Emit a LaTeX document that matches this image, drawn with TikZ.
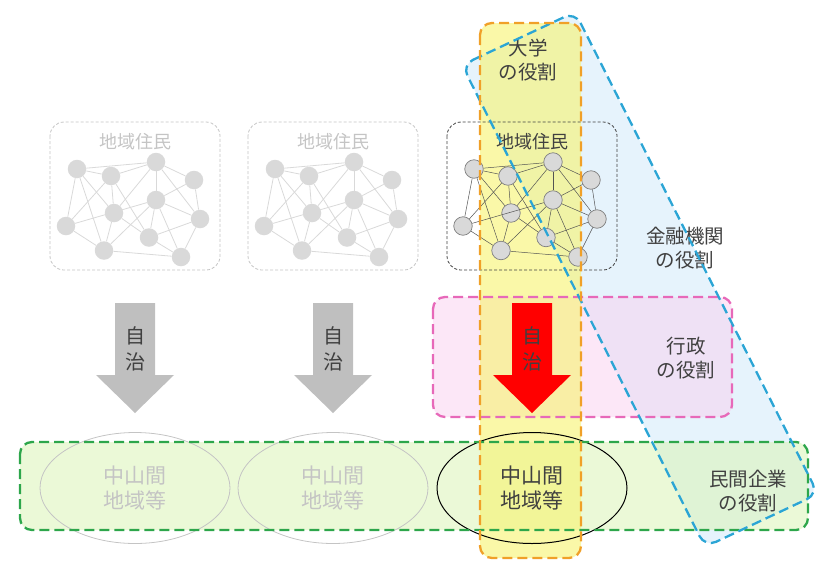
\documentclass[tikz,border=0pt]{standalone}
\usepackage{fontspec}
\setmainfont{Noto Sans CJK JP}
\usetikzlibrary{shapes.geometric}

\definecolor{ink}{HTML}{404040}
\definecolor{fade}{HTML}{C4C4C4}
\definecolor{dotgray}{HTML}{D9D9D9}
\definecolor{arrowgray}{HTML}{BFBFBF}
\definecolor{finblue}{HTML}{2BA5D5}
\definecolor{finfill}{HTML}{D6EBFA}
\definecolor{govpink}{HTML}{E769B9}
\definecolor{govfill}{HTML}{F9CFF0}
\definecolor{bizgreen}{HTML}{2DA64B}
\definecolor{bizfill}{HTML}{D8F3B0}
\definecolor{uniorange}{HTML}{F0A028}
\definecolor{unifill}{HTML}{F7F46E}

\tikzset{
  role/.style={align=center,text=ink,font=\fontsize{19.5}{24}\selectfont},
  dashline/.style={line width=2.3pt,dash pattern=on 10pt off 5pt},
  jichi/.style={align=center,text=ink,font=\fontsize{20}{26}\selectfont},
  area/.style={ellipse,minimum width=190pt,minimum height=111pt,align=center,
    font=\fontsize{21}{25}\selectfont},
  faded/.style={
    box/.style={draw=fade,line width=0.8pt,dash pattern=on 3pt off 2pt,rounded corners=14pt},
    title/.style={text=fade},
    dot/.style={circle,fill=dotgray,inner sep=0pt,minimum size=18.5pt},
    link/.style={draw=dotgray,line width=0.8pt}},
  active/.style={
    box/.style={draw=ink,line width=0.8pt,dash pattern=on 3pt off 2pt,rounded corners=14pt},
    title/.style={text=ink},
    dot/.style={circle,fill=dotgray,draw=gray,line width=0.7pt,inner sep=0pt,minimum size=18.5pt},
    link/.style={draw=ink!90,line width=0.5pt}},
}

\begin{document}
\begin{tikzpicture}[x=1pt,y=-1pt]
  \useasboundingbox (0,0) rectangle (820,563);

  % corners of the role areas
  \coordinate (fin1) at (462,65);
  \coordinate (fin2) at (575,12);
  \coordinate (fin3) at (818,494);
  \coordinate (fin4) at (705,547);

  % fills
  \fill[finfill,fill opacity=.6,rounded corners=12pt] (fin1) -- (fin2) -- (fin3) -- (fin4) -- cycle;
  \fill[govfill,fill opacity=.5,rounded corners=12pt] (433,297) rectangle (732,417);
  \fill[bizfill,fill opacity=.5,rounded corners=12pt] (20,442) rectangle (808,530);
  \fill[unifill,fill opacity=.6,rounded corners=12pt] (480,23) rectangle (581,558);

  % residents
  \foreach \cx/\k/\tone in {135/L/faded,333/M/faded,532/R/active}{
    \begin{scope}[shift={(\cx,0)},\tone]
      \draw[box] (-85,122) rectangle (85,270);
      \node[title,font=\fontsize{18}{18}\selectfont] (title\k) at (0,142) {地域住民};
      \foreach \i/\px/\py in {1/-58/169,2/-24/176,3/21/162,4/59/180,5/21/200,6/-21/213,
          7/-69/226,8/65/219,9/14/237.5,10/-31/250.5,11/46/257}
        \node[dot] (\k\i) at (\px,\py) {};
      \foreach \a/\b in {1/2,1/3,2/3,1/7,1/6,1/10,2/6,2/7,2/9,3/4,3/5,3/6,3/8,4/5,4/8,
          5/7,5/8,5/9,5/10,5/11,6/10,6/9,7/10,8/9,8/11,9/11,10/11}
        \draw[link] (\k\a) -- (\k\b);
    \end{scope}
  }

  % autonomy arrows and areas
  \foreach \cx/\k/\col/\txt in {135/L/arrowgray/fade,333/M/arrowgray/fade,532/R/red/ink}{
    \fill[\col] (\cx-20,303) -- (\cx+20,303) -- (\cx+20,375) -- (\cx+39,375)
      -- (\cx,413) -- (\cx-39,375) -- (\cx-20,375) -- cycle;
    \node[jichi] (jichi\k) at (\cx,349) {自\\治};
    \node[area,text=\txt] (area\k) at (\cx,488) {中山間\\地域等};
  }
  \draw[fade,line width=0.8pt] (areaL.center) ellipse (95pt and 55.5pt);
  \draw[fade,line width=0.8pt] (areaM.center) ellipse (95pt and 55.5pt);
  \draw[black,line width=1pt] (areaR.center) ellipse (95pt and 55.5pt);

  % roles
  \node[role] (univ) at (528,60) {大学\\の役割};
  \node[role] (bank) at (685,248) {金融機関\\の役割};
  \node[role] (gov) at (686,358) {行政\\の役割};
  \node[role] (biz) at (748,491) {民間企業\\の役割};

  % dashed borders
  \draw[govpink,dashline,rounded corners=12pt] (433,297) rectangle (732,417);
  \draw[bizgreen,dashline,rounded corners=12pt] (20,442) rectangle (808,530);
  \draw[finblue,dashline,rounded corners=12pt] (fin1) -- (fin2) -- (fin3) -- (fin4) -- cycle;
  \draw[uniorange,dashline,rounded corners=12pt] (480,23) rectangle (581,558);
\end{tikzpicture}
\end{document}
